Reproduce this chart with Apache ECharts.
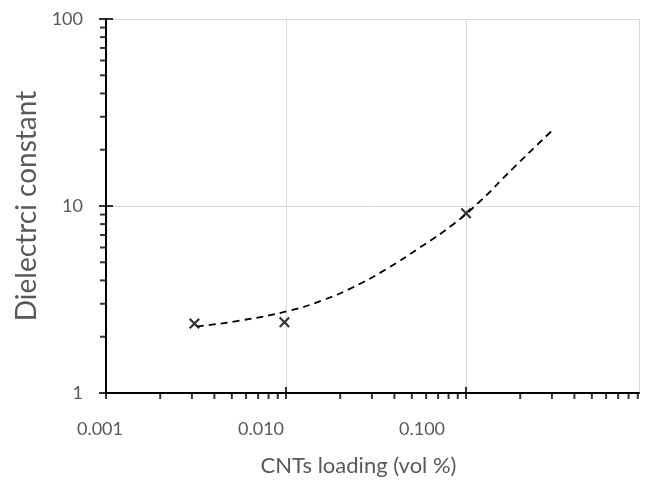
<!DOCTYPE html>
<html><head><meta charset="utf-8">
<script src="https://cdn.jsdelivr.net/npm/echarts@6/dist/echarts.min.js"></script>
<style>html,body{margin:0;padding:0;background:#fff}#c{width:646px;height:482px}</style>
</head><body><div id="c"></div>
<script>
// Measured data points
const loadingX = [0.0031, 0.0098, 0.100];
const dielectricY = [2.35, 2.39, 9.15];
// Trendline
const trendX = [0.0032, 0.00555, 0.0105, 0.01605, 0.0236, 0.03625, 0.05551, 0.0847, 0.1196, 0.1824, 0.3043];
const trendY = [2.27, 2.44, 2.76, 3.14, 3.68, 4.61, 6.00, 7.97, 10.6, 15.9, 25.6];
// Axis ticks
const xTickLabels = ['0.001', '0.010', '0.100'];
const xMinorTicks = [0.002,0.003,0.004,0.005,0.006,0.007,0.008,0.009,0.02,0.03,0.04,0.05,0.06,0.07,0.08,0.09,0.2,0.3,0.4,0.5,0.6,0.7,0.8,0.9];
const xMajorTicks = [0.001, 0.01, 0.1];
const yMinorTicks = [2,3,4,5,6,7,8,9,20,30,40,50,60,70,80,90];
const yMajorTicks = [1, 10, 100];

const X_MIN = 0.001, X_MAX = 0.914, Y_MIN = 1, Y_MAX = 100;
const FONT = 'Lato';
const TICK_FS = 18;
const cross = 'path://M0,1.4L1.4,0L5,3.6L8.6,0L10,1.4L6.4,5L10,8.6L8.6,10L5,6.4L1.4,10L0,8.6L3.6,5Z';

const chart = echarts.init(document.getElementById('c'), null, {renderer: 'canvas'});
const labelRich = {
  a: {padding: [0, 12, 0, 0], fontSize: TICK_FS, color: '#595959', fontFamily: FONT},
  b: {padding: [0, 50, 0, 0], fontSize: TICK_FS, color: '#595959', fontFamily: FONT},
  c: {padding: [0, 88, 0, 0], fontSize: TICK_FS, color: '#595959', fontFamily: FONT}
};
const keys = ['a', 'b', 'c'];
chart.setOption({
  animation: false,
  grid: {left: 106, right: 7, top: 19, bottom: 84.5, containLabel: false},
  xAxis: {
    type: 'log', logBase: 10, min: X_MIN, max: X_MAX,
    name: 'CNTs loading (vol %)', nameLocation: 'middle', nameGap: 62,
    nameTextStyle: {fontSize: 22, color: '#595959', fontFamily: FONT, padding: [0, 28, 0, 0]},
    axisLine: {show: true, onZero: false, lineStyle: {color: '#000', width: 2}},
    axisTick: {show: false},
    splitLine: {show: true, lineStyle: {color: '#d9d9d9', width: 1}},
    minorTick: {show: false}, minorSplitLine: {show: false},
    axisLabel: {
      margin: 27, fontSize: TICK_FS, color: '#595959', fontFamily: FONT,
      showMaxLabel: false,
      formatter: function (v) {
        const i = xMajorTicks.findIndex(t => Math.abs(Math.log10(v) - Math.log10(t)) < 1e-6);
        return i >= 0 ? '{' + keys[i] + '|' + xTickLabels[i] + '}' : '';
      },
      rich: labelRich
    }
  },
  yAxis: {
    type: 'log', logBase: 10, min: Y_MIN, max: Y_MAX,
    name: 'Dielectrci constant', nameLocation: 'middle', nameGap: 49,
    nameTextStyle: {fontSize: 28, color: '#595959', fontFamily: FONT},
    axisLine: {show: true, onZero: false, lineStyle: {color: '#000', width: 2}},
    axisTick: {show: false},
    splitLine: {show: true, lineStyle: {color: '#d9d9d9', width: 1}},
    axisLabel: {margin: 23, fontSize: TICK_FS, color: '#595959', fontFamily: FONT}
  },
  series: [
    {
      type: 'line', data: trendX.map((x, i) => [x, trendY[i]]), smooth: true,
      showSymbol: false, symbol: 'none',
      lineStyle: {color: '#000', width: 1.8, type: [7, 5]}, z: 2
    },
    {
      type: 'scatter', data: loadingX.map((x, i) => [x, dielectricY[i]]),
      symbol: cross, symbolSize: 11, itemStyle: {color: '#000'}, z: 3
    },
    {
      type: 'scatter', data: xMinorTicks.map(x => [x, Y_MIN]), clip: false, silent: true,
      symbol: 'rect', symbolSize: [2, 6], symbolOffset: [0, 3], itemStyle: {color: '#000'}, z: 4
    },
    {
      type: 'scatter', data: xMajorTicks.map(x => [x, Y_MIN]), clip: false, silent: true,
      symbol: 'rect', symbolSize: [2, 12], symbolOffset: [0, 0], itemStyle: {color: '#000'}, z: 4
    },
    {
      type: 'scatter', data: yMinorTicks.map(y => [X_MIN, y]), clip: false, silent: true,
      symbol: 'rect', symbolSize: [6, 2], symbolOffset: [-3, 0], itemStyle: {color: '#000'}, z: 4
    },
    {
      type: 'scatter', data: yMajorTicks.map(y => [X_MIN, y]), clip: false, silent: true,
      symbol: 'rect', symbolSize: [14, 2], symbolOffset: [0, 0], itemStyle: {color: '#000'}, z: 4
    }
  ]
});
</script></body></html>
